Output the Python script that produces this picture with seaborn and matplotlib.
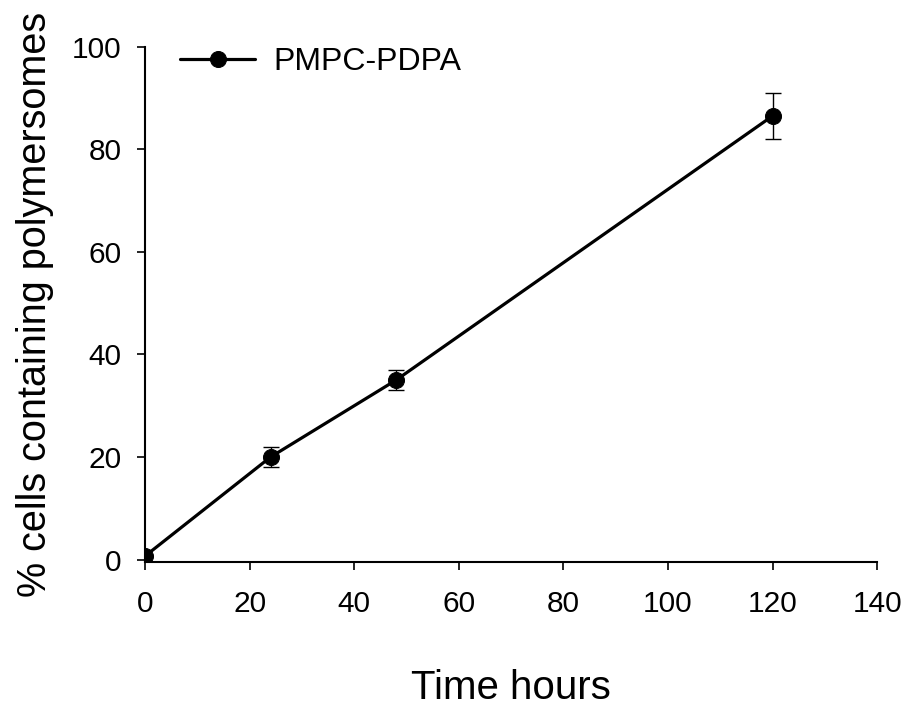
import matplotlib
matplotlib.use("Agg")
import matplotlib.pyplot as plt
import seaborn as sns
import pandas as pd

# Uptake of PMPC-PDPA polymersomes over time
time_h = [0, 24, 48, 120]
pct_cells = [0.7, 20.0, 35.0, 86.5]
err = [0.0, 2.0, 2.0, 4.4]
series_name = "PMPC-PDPA"

x_ticks = [0, 20, 40, 60, 80, 100, 120, 140]
y_ticks = [0, 20, 40, 60, 80, 100]

sns.set_theme(style="ticks")
plt.rcParams["font.family"] = ["Liberation Sans", "DejaVu Sans"]
plt.rcParams["text.color"] = "black"
plt.rcParams["axes.labelcolor"] = "black"

df = pd.DataFrame({"time": time_h, "pct": pct_cells})

fig = plt.figure(figsize=(9.07, 7.08), dpi=100)
ax = fig.add_axes([0.160, 0.206, 0.807, 0.728])

ax.errorbar(time_h, pct_cells, yerr=err, fmt="none", ecolor="black",
            elinewidth=1.0, capsize=5.5, capthick=1.0, zorder=2)
sns.lineplot(data=df, x="time", y="pct", ax=ax, color="black", linewidth=2.3,
             marker="o", markersize=11.5, markeredgecolor="black",
             label=series_name, zorder=3)

ax.set_xlim(0, 140)
ax.set_ylim(-0.5, 100)
ax.set_xticks(x_ticks)
ax.set_yticks(y_ticks)
ax.tick_params(axis="both", direction="out", length=6, width=1.2,
               labelsize=21.5, colors="black")
ax.tick_params(axis="x", pad=14)
ax.tick_params(axis="y", pad=11)
for side in ("left", "bottom"):
    ax.spines[side].set_linewidth(1.5)
    ax.spines[side].set_color("black")
sns.despine(ax=ax)

ax.set_xlabel("Time hours", fontsize=29, labelpad=37)
ax.set_ylabel("% cells containing polymersomes", fontsize=28.5, labelpad=13)

leg = ax.legend(loc="upper left", bbox_to_anchor=(0.048, 1.0), frameon=False,
                fontsize=23, handlelength=2.35, handletextpad=0.56,
                borderpad=0, borderaxespad=0)
for t in leg.get_texts():
    t.set_color("black")

fig.savefig("out.png", dpi=100)
